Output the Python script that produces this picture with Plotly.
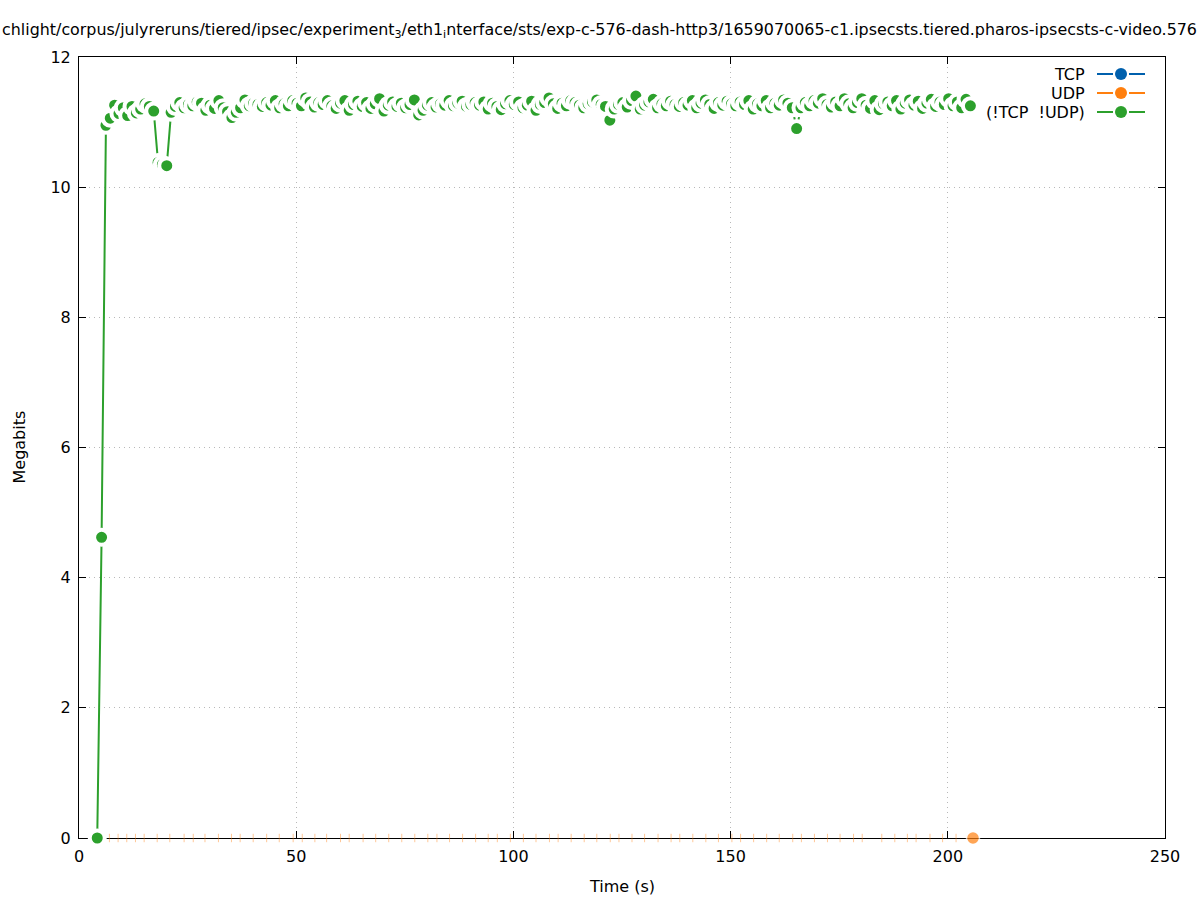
import plotly.graph_objects as go

# ---------------- data ----------------
green_times = [
    4.2, 5.2, 6.2, 7.2, 8.2, 9.2, 10.2, 11.2, 12.2, 13.2,
    14.2, 15.2, 16.2, 17.2, 18.2, 19.2, 20.2, 21.2, 22.2, 23.2,
    24.2, 25.2, 26.2, 27.2, 28.2, 29.2, 30.2, 31.2, 32.2, 33.2,
    34.2, 35.2, 36.2, 37.2, 38.2, 39.2, 40.2, 41.2, 42.2, 43.2,
    44.2, 45.2, 46.2, 47.2, 48.2, 49.2, 50.2, 51.2, 52.2, 53.2,
    54.2, 55.2, 56.2, 57.2, 58.2, 59.2, 60.2, 61.2, 62.2, 63.2,
    64.2, 65.2, 66.2, 67.2, 68.2, 69.2, 70.2, 71.2, 72.2, 73.2,
    74.2, 75.2, 76.2, 77.2, 78.2, 79.2, 80.2, 81.2, 82.2, 83.2,
    84.2, 85.2, 86.2, 87.2, 88.2, 89.2, 90.2, 91.2, 92.2, 93.2,
    94.2, 95.2, 96.2, 97.2, 98.2, 99.2, 100.2, 101.2, 102.2, 103.2,
    104.2, 105.2, 106.2, 107.2, 108.2, 109.2, 110.2, 111.2, 112.2, 113.2,
    114.2, 115.2, 116.2, 117.2, 118.2, 119.2, 120.2, 121.2, 122.2, 123.2,
    124.2, 125.2, 126.2, 127.2, 128.2, 129.2, 130.2, 131.2, 132.2, 133.2,
    134.2, 135.2, 136.2, 137.2, 138.2, 139.2, 140.2, 141.2, 142.2, 143.2,
    144.2, 145.2, 146.2, 147.2, 148.2, 149.2, 150.2, 151.2, 152.2, 153.2,
    154.2, 155.2, 156.2, 157.2, 158.2, 159.2, 160.2, 161.2, 162.2, 163.2,
    164.2, 165.2, 166.2, 167.2, 168.2, 169.2, 170.2, 171.2, 172.2, 173.2,
    174.2, 175.2, 176.2, 177.2, 178.2, 179.2, 180.2, 181.2, 182.2, 183.2,
    184.2, 185.2, 186.2, 187.2, 188.2, 189.2, 190.2, 191.2, 192.2, 193.2,
    194.2, 195.2, 196.2, 197.2, 198.2, 199.2, 200.2, 201.2, 202.2, 203.2,
    204.2, 205.2,
]
green_mbits = [
    0.00, 4.62, 10.95, 11.06, 11.26, 11.13, 11.22, 11.10, 11.24, 11.14,
    11.20, 11.28, 11.24, 11.17, 10.38, 10.35, 10.33, 11.15, 11.24, 11.30,
    11.22, 11.27, 11.25, 11.31, 11.29, 11.18, 11.26, 11.21, 11.33, 11.22,
    11.16, 11.07, 11.15, 11.22, 11.34, 11.25, 11.29, 11.27, 11.24, 11.30,
    11.26, 11.33, 11.22, 11.28, 11.25, 11.33, 11.29, 11.25, 11.37, 11.31,
    11.23, 11.30, 11.27, 11.33, 11.25, 11.21, 11.29, 11.33, 11.18, 11.27,
    11.32, 11.24, 11.30, 11.21, 11.28, 11.36, 11.17, 11.26, 11.31, 11.24,
    11.29, 11.22, 11.27, 11.34, 11.11, 11.18, 11.26, 11.30, 11.23, 11.28,
    11.26, 11.33, 11.25, 11.29, 11.32, 11.24, 11.27, 11.30, 11.26, 11.31,
    11.20, 11.29, 11.24, 11.19, 11.28, 11.33, 11.27, 11.31, 11.22, 11.26,
    11.32, 11.18, 11.27, 11.30, 11.37, 11.28, 11.21, 11.29, 11.25, 11.33,
    11.30, 11.26, 11.22, 11.28, 11.31, 11.34, 11.27, 11.24, 11.03, 11.20,
    11.27, 11.30, 11.23, 11.33, 11.40, 11.20, 11.26, 11.31, 11.35, 11.22,
    11.28, 11.25, 11.32, 11.27, 11.24, 11.30, 11.26, 11.33, 11.22, 11.29,
    11.34, 11.27, 11.21, 11.30, 11.26, 11.32, 11.28, 11.25, 11.31, 11.27,
    11.33, 11.20, 11.28, 11.25, 11.33, 11.22, 11.29, 11.26, 11.34, 11.29,
    11.22, 10.90, 11.22, 11.30, 11.25, 11.33, 11.29, 11.36, 11.27, 11.23,
    11.31, 11.25, 11.36, 11.28, 11.22, 11.30, 11.36, 11.26, 11.21, 11.33,
    11.19, 11.28, 11.31, 11.25, 11.33, 11.20, 11.29, 11.34, 11.26, 11.32,
    11.21, 11.29, 11.35, 11.24, 11.31, 11.27, 11.36, 11.25, 11.31, 11.22,
    11.35, 11.25,
]

udp_times = [
    7.0, 9.0, 11.0, 13.0, 15.0, 18.0, 20.9, 24.2, 26.3, 29.0,
    32.1, 35.1, 37.1, 40.1, 43.2, 46.1, 49.3, 51.4, 54.3, 57.0,
    60.2, 62.2, 65.4, 68.3, 71.3, 74.3, 77.3, 80.3, 82.4, 85.3,
    88.3, 91.3, 94.2, 96.3, 99.3, 102.3, 105.2, 108.3, 110.3, 113.3,
    116.3, 119.2, 122.3, 124.3, 127.3, 130.2, 133.3, 136.3, 138.3, 141.3,
    144.3, 147.2, 150.3, 152.3, 155.3, 158.3, 161.2, 164.3, 166.3, 169.3,
    172.3, 175.2, 178.3, 180.3, 184.8, 187.8, 190.7, 192.7, 195.9, 198.8,
    201.9, 205.8,
]
udp_mbits = [0.0] * len(udp_times)

x_ticks = [0, 50, 100, 150, 200, 250]
y_ticks = [0, 2, 4, 6, 8, 10, 12]

legend_names = ["TCP", "UDP", "(!TCP\u00a0\u00a0!UDP)"]
legend_colors = ["#0060ad", "#ff7f0e", "#2ca02c"]

title_text = ("chlight/corpus/julyreruns/tiered/ipsec/experiment<sub>3</sub>/eth1<sub>i</sub>nterface/sts/"
              "exp-c-576-dash-http3/1659070065-c1.ipsecsts.tiered.pharos-ipsecsts-c-video.576p")

# ---------------- geometry (px) ----------------
W, H = 1197, 900
L, R, T, B = 79, 32, 57, 62
PW, PH = W - L - R, H - T - B
FONT = "DejaVu Sans"


def px_x(p):
    return (p - L) / PW


def px_y(p):
    return (H - B - p) / PH


fig = go.Figure()

# UDP: tick-like points on the zero line, final sample as a dot
udp_symbols = ["line-ns"] * (len(udp_times) - 1) + ["circle"]
udp_sizes = [6] * (len(udp_times) - 1) + [13]
udp_lw = [1] * (len(udp_times) - 1) + [1.5]
udp_lc = ["rgba(255,127,14,0.6)"] * (len(udp_times) - 1) + ["white"]
fig.add_trace(go.Scatter(
    x=udp_times, y=udp_mbits, mode="markers", cliponaxis=False,
    marker=dict(symbol=udp_symbols, size=udp_sizes, color=legend_colors[1],
                line=dict(width=udp_lw, color=udp_lc)),
    showlegend=False, hoverinfo="skip",
))

# Other traffic
fig.add_trace(go.Scatter(
    x=green_times, y=green_mbits, mode="lines+markers", cliponaxis=False,
    line=dict(color=legend_colors[2], width=2),
    marker=dict(symbol="circle", size=15, color=legend_colors[2],
                line=dict(width=4, color="white")),
    showlegend=False, hoverinfo="skip",
))

axis_common = dict(
    showline=True, linecolor="black", linewidth=1, mirror="ticks",
    ticks="inside", ticklen=7, tickcolor="black", tickwidth=1,
    showgrid=True, gridcolor="#b8b8b8", gridwidth=1, griddash="1px,4px",
    zeroline=False, layer="below traces",
    tickfont=dict(family=FONT, size=16, color="black"),
)

fig.update_xaxes(range=[0, 250], tickvals=x_ticks, ticktext=[str(v) for v in x_ticks],
                 ticklabelstandoff=4, **axis_common)
fig.update_yaxes(range=[0, 12], tickvals=y_ticks, ticktext=[str(v) for v in y_ticks],
                 ticklabelstandoff=4, **axis_common)

annotations = [
    dict(text=title_text, xref="paper", yref="paper", x=px_x(0), y=px_y(30),
         xanchor="left", yanchor="middle", showarrow=False,
         font=dict(family=FONT, size=15.9, color="black")),
    dict(text="Time (s)", xref="paper", yref="paper", x=px_x((L + W - R) / 2), y=px_y(886),
         xanchor="center", yanchor="middle", showarrow=False,
         font=dict(family=FONT, size=16, color="black")),
    dict(text="Megabits", xref="paper", yref="paper", x=px_x(19), y=px_y((T + H - B) / 2),
         xanchor="center", yanchor="middle", showarrow=False, textangle=-90,
         font=dict(family=FONT, size=16, color="black")),
]

shapes = []
leg_y = [74, 93, 112]
for name, col, yy in zip(legend_names, legend_colors, leg_y):
    annotations.append(dict(
        text=name, xref="paper", yref="paper", x=px_x(1087), y=px_y(yy),
        xanchor="right", yanchor="middle", showarrow=False,
        font=dict(family=FONT, size=16, color="black")))
    for x0, x1 in [(1097, 1113), (1129, 1145)]:
        shapes.append(dict(type="line", xref="paper", yref="paper",
                           x0=px_x(x0), x1=px_x(x1), y0=px_y(yy), y1=px_y(yy),
                           line=dict(color=col, width=2)))
    r = 6
    shapes.append(dict(type="circle", xref="paper", yref="paper",
                       x0=px_x(1121 - r), x1=px_x(1121 + r),
                       y0=px_y(yy - r), y1=px_y(yy + r),
                       fillcolor=col, line=dict(color=col, width=0)))

fig.update_layout(
    width=W, height=H,
    margin=dict(l=L, r=R, t=T, b=B, autoexpand=False),
    paper_bgcolor="white", plot_bgcolor="white",
    font=dict(family=FONT, size=16, color="black"),
    annotations=annotations, shapes=shapes, showlegend=False,
)

fig.write_html("out.html", config={"displayModeBar": False},
               post_script="document.body.style.margin='0';document.body.style.padding='0';")
